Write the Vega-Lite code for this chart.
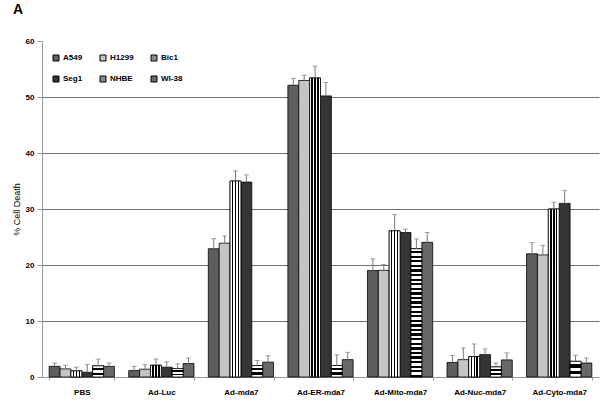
{
  "$schema": "https://vega.github.io/schema/vega-lite/v6.json",
  "autosize": {"type": "none"},
  "padding": {"left": 42, "top": 41, "right": 3, "bottom": 24},
  "width": 557,
  "height": 336,
  "background": "white",
  "title": {"text": "A", "anchor": "start", "frame": "group", "dx": -29, "offset": 20, "fontSize": 14, "font": "Liberation Sans", "fontWeight": "bold", "color": "black"},
  "config": {
    "view": {"stroke": null},
    "font": "Liberation Sans",
    "axis": {"labelFont": "Liberation Sans", "titleFont": "Liberation Sans", "labelColor": "black", "titleColor": "black"}
  },
  "data": {"values": [
    {"group": "PBS", "line": "A549", "value": 1.9, "hi": 2.5},
    {"group": "PBS", "line": "H1299", "value": 1.45, "hi": 2.1},
    {"group": "PBS", "line": "Bic1", "value": 1.1, "hi": 1.75},
    {"group": "PBS", "line": "Seg1", "value": 0.85, "hi": 2.2},
    {"group": "PBS", "line": "NHBE", "value": 2.0, "hi": 3.2},
    {"group": "PBS", "line": "WI-38", "value": 1.9, "hi": 2.5},
    {"group": "Ad-Luc", "line": "A549", "value": 1.15, "hi": 1.9},
    {"group": "Ad-Luc", "line": "H1299", "value": 1.4, "hi": 2.2},
    {"group": "Ad-Luc", "line": "Bic1", "value": 2.1, "hi": 3.2},
    {"group": "Ad-Luc", "line": "Seg1", "value": 1.75, "hi": 2.7},
    {"group": "Ad-Luc", "line": "NHBE", "value": 1.5, "hi": 2.35},
    {"group": "Ad-Luc", "line": "WI-38", "value": 2.4, "hi": 3.4},
    {"group": "Ad-mda7", "line": "A549", "value": 22.9, "hi": 24.7},
    {"group": "Ad-mda7", "line": "H1299", "value": 23.9, "hi": 25.2},
    {"group": "Ad-mda7", "line": "Bic1", "value": 35.0, "hi": 36.8},
    {"group": "Ad-mda7", "line": "Seg1", "value": 34.8, "hi": 36.1},
    {"group": "Ad-mda7", "line": "NHBE", "value": 2.05, "hi": 2.95},
    {"group": "Ad-mda7", "line": "WI-38", "value": 2.65, "hi": 3.8},
    {"group": "Ad-ER-mda7", "line": "A549", "value": 52.1, "hi": 53.3},
    {"group": "Ad-ER-mda7", "line": "H1299", "value": 52.95, "hi": 53.9},
    {"group": "Ad-ER-mda7", "line": "Bic1", "value": 53.4, "hi": 55.5},
    {"group": "Ad-ER-mda7", "line": "Seg1", "value": 50.2, "hi": 52.6},
    {"group": "Ad-ER-mda7", "line": "NHBE", "value": 2.05, "hi": 3.95},
    {"group": "Ad-ER-mda7", "line": "WI-38", "value": 3.1, "hi": 4.4},
    {"group": "Ad-Mito-mda7", "line": "A549", "value": 19.0, "hi": 21.1},
    {"group": "Ad-Mito-mda7", "line": "H1299", "value": 19.05, "hi": 20.1},
    {"group": "Ad-Mito-mda7", "line": "Bic1", "value": 26.1, "hi": 29.0},
    {"group": "Ad-Mito-mda7", "line": "Seg1", "value": 25.8, "hi": 26.4},
    {"group": "Ad-Mito-mda7", "line": "NHBE", "value": 22.9, "hi": 24.65},
    {"group": "Ad-Mito-mda7", "line": "WI-38", "value": 24.05, "hi": 25.8},
    {"group": "Ad-Nuc-mda7", "line": "A549", "value": 2.6, "hi": 3.85},
    {"group": "Ad-Nuc-mda7", "line": "H1299", "value": 3.1, "hi": 5.2},
    {"group": "Ad-Nuc-mda7", "line": "Bic1", "value": 3.65, "hi": 5.9},
    {"group": "Ad-Nuc-mda7", "line": "Seg1", "value": 4.0, "hi": 5.0},
    {"group": "Ad-Nuc-mda7", "line": "NHBE", "value": 1.8, "hi": 2.5},
    {"group": "Ad-Nuc-mda7", "line": "WI-38", "value": 3.05, "hi": 4.3},
    {"group": "Ad-Cyto-mda7", "line": "A549", "value": 22.0, "hi": 24.0},
    {"group": "Ad-Cyto-mda7", "line": "H1299", "value": 21.8, "hi": 23.5},
    {"group": "Ad-Cyto-mda7", "line": "Bic1", "value": 30.0, "hi": 31.2},
    {"group": "Ad-Cyto-mda7", "line": "Seg1", "value": 31.0, "hi": 33.3},
    {"group": "Ad-Cyto-mda7", "line": "NHBE", "value": 2.8, "hi": 3.85},
    {"group": "Ad-Cyto-mda7", "line": "WI-38", "value": 2.5, "hi": 3.4}
  ]},
  "encoding": {
    "x": {
      "field": "group", "type": "nominal",
      "sort": ["PBS", "Ad-Luc", "Ad-mda7", "Ad-ER-mda7", "Ad-Mito-mda7", "Ad-Nuc-mda7", "Ad-Cyto-mda7"],
      "scale": {"paddingInner": 0.18, "paddingOuter": 0.09},
      "axis": {"title": null, "labelAngle": 0, "labelFontSize": 8, "labelFontWeight": "bold", "labelPadding": 8, "labelColor": "black", "domainColor": "#999999", "tickColor": "#999999", "tickSize": 3, "tickBand": "extent"}
    },
    "xOffset": {"field": "line", "type": "nominal", "scale": {"domain": ["A549", "H1299", "Bic1", "Seg1", "NHBE", "WI-38"], "paddingInner": 0, "paddingOuter": 0}},
    "y": {
      "field": "value", "type": "quantitative",
      "scale": {"domain": [0, 60], "nice": false},
      "axis": {
        "title": "% Cell Death", "titleFontSize": 9, "titleFontWeight": "normal", "titlePadding": 4, "titleColor": "#000000",
        "values": [0, 10, 20, 30, 40, 50, 60],
        "labelFontSize": 8, "labelFontWeight": "bold", "labelPadding": 3, "labelColor": "black",
        "tickSize": 5, "tickColor": "#999999", "domainColor": "#999999",
        "gridColor": {"condition": {"test": "datum.value === 60 || datum.value === 0", "value": null}, "value": "#6e6e6e"},
        "gridWidth": 1
      }
    }
  },
  "layer": [
    {
      "mark": {"type": "bar", "stroke": "black", "strokeWidth": 0.8},
      "encoding": {
        "fill": {
          "field": "line", "type": "nominal",
          "scale": {"domain": ["A549", "H1299", "Bic1", "Seg1", "NHBE", "WI-38"], "range": ["#5e5e5e", "#c4c4c4", "#8c8c8c", "#353535", "#8c8c8c", "#686868"]},
          "legend": {"title": null, "orient": "none", "direction": "horizontal", "legendX": 10, "legendY": 13, "columns": 3, "symbolType": "square", "symbolSize": 36, "symbolStrokeColor": "black", "symbolStrokeWidth": 1, "labelFontSize": 8, "labelFontWeight": "bold", "labelFont": "Liberation Sans", "labelColor": "black", "columnPadding": 15, "rowPadding": 11, "labelOffset": 3, "padding": 0}
        }
      }
    },
    {
      "transform": [{"filter": "datum.line === 'Bic1'"}],
      "mark": {"type": "bar", "stroke": "black", "strokeWidth": 0.8,
        "fill": {"gradient": "linear", "x1": 0, "y1": 0, "x2": 1, "y2": 0, "stops": [
          {"offset": 0, "color": "white"}, {"offset": 0.17, "color": "white"},
          {"offset": 0.17, "color": "black"}, {"offset": 0.3, "color": "black"},
          {"offset": 0.3, "color": "white"}, {"offset": 0.44, "color": "white"},
          {"offset": 0.44, "color": "black"}, {"offset": 0.57, "color": "black"},
          {"offset": 0.57, "color": "white"}, {"offset": 0.7, "color": "white"},
          {"offset": 0.7, "color": "black"}, {"offset": 0.83, "color": "black"},
          {"offset": 0.83, "color": "white"}, {"offset": 1, "color": "white"}
        ]}
      }
    },
    {
      "transform": [{"filter": "datum.line === 'NHBE' && datum.value < 10"}],
      "mark": {"type": "bar", "stroke": "black", "strokeWidth": 0.8,
        "fill": {"gradient": "linear", "x1": 0, "y1": 0, "x2": 0, "y2": 1, "stops": [
          {"offset": 0, "color": "white"}, {"offset": 0.2, "color": "white"},
          {"offset": 0.2, "color": "black"}, {"offset": 0.4, "color": "black"},
          {"offset": 0.4, "color": "white"}, {"offset": 0.6, "color": "white"},
          {"offset": 0.6, "color": "black"}, {"offset": 0.8, "color": "black"},
          {"offset": 0.8, "color": "white"}, {"offset": 1, "color": "white"}
        ]}
      }
    },
    {
      "transform": [{"filter": "datum.line === 'NHBE' && datum.value >= 10"}],
      "mark": {"type": "bar", "stroke": "black", "strokeWidth": 0.8,
        "fill": {"gradient": "linear", "x1": 0, "y1": 0, "x2": 0, "y2": 1, "stops": [
          {"offset": 0, "color": "white"}, {"offset": 0.0179, "color": "white"}, {"offset": 0.0179, "color": "black"}, {"offset": 0.0357, "color": "black"},
          {"offset": 0.0357, "color": "white"}, {"offset": 0.0536, "color": "white"}, {"offset": 0.0536, "color": "black"}, {"offset": 0.0714, "color": "black"},
          {"offset": 0.0714, "color": "white"}, {"offset": 0.0893, "color": "white"}, {"offset": 0.0893, "color": "black"}, {"offset": 0.1071, "color": "black"},
          {"offset": 0.1071, "color": "white"}, {"offset": 0.125, "color": "white"}, {"offset": 0.125, "color": "black"}, {"offset": 0.1429, "color": "black"},
          {"offset": 0.1429, "color": "white"}, {"offset": 0.1607, "color": "white"}, {"offset": 0.1607, "color": "black"}, {"offset": 0.1786, "color": "black"},
          {"offset": 0.1786, "color": "white"}, {"offset": 0.1964, "color": "white"}, {"offset": 0.1964, "color": "black"}, {"offset": 0.2143, "color": "black"},
          {"offset": 0.2143, "color": "white"}, {"offset": 0.2321, "color": "white"}, {"offset": 0.2321, "color": "black"}, {"offset": 0.25, "color": "black"},
          {"offset": 0.25, "color": "white"}, {"offset": 0.2679, "color": "white"}, {"offset": 0.2679, "color": "black"}, {"offset": 0.2857, "color": "black"},
          {"offset": 0.2857, "color": "white"}, {"offset": 0.3036, "color": "white"}, {"offset": 0.3036, "color": "black"}, {"offset": 0.3214, "color": "black"},
          {"offset": 0.3214, "color": "white"}, {"offset": 0.3393, "color": "white"}, {"offset": 0.3393, "color": "black"}, {"offset": 0.3571, "color": "black"},
          {"offset": 0.3571, "color": "white"}, {"offset": 0.375, "color": "white"}, {"offset": 0.375, "color": "black"}, {"offset": 0.3929, "color": "black"},
          {"offset": 0.3929, "color": "white"}, {"offset": 0.4107, "color": "white"}, {"offset": 0.4107, "color": "black"}, {"offset": 0.4286, "color": "black"},
          {"offset": 0.4286, "color": "white"}, {"offset": 0.4464, "color": "white"}, {"offset": 0.4464, "color": "black"}, {"offset": 0.4643, "color": "black"},
          {"offset": 0.4643, "color": "white"}, {"offset": 0.4821, "color": "white"}, {"offset": 0.4821, "color": "black"}, {"offset": 0.5, "color": "black"},
          {"offset": 0.5, "color": "white"}, {"offset": 0.5179, "color": "white"}, {"offset": 0.5179, "color": "black"}, {"offset": 0.5357, "color": "black"},
          {"offset": 0.5357, "color": "white"}, {"offset": 0.5536, "color": "white"}, {"offset": 0.5536, "color": "black"}, {"offset": 0.5714, "color": "black"},
          {"offset": 0.5714, "color": "white"}, {"offset": 0.5893, "color": "white"}, {"offset": 0.5893, "color": "black"}, {"offset": 0.6071, "color": "black"},
          {"offset": 0.6071, "color": "white"}, {"offset": 0.625, "color": "white"}, {"offset": 0.625, "color": "black"}, {"offset": 0.6429, "color": "black"},
          {"offset": 0.6429, "color": "white"}, {"offset": 0.6607, "color": "white"}, {"offset": 0.6607, "color": "black"}, {"offset": 0.6786, "color": "black"},
          {"offset": 0.6786, "color": "white"}, {"offset": 0.6964, "color": "white"}, {"offset": 0.6964, "color": "black"}, {"offset": 0.7143, "color": "black"},
          {"offset": 0.7143, "color": "white"}, {"offset": 0.7321, "color": "white"}, {"offset": 0.7321, "color": "black"}, {"offset": 0.75, "color": "black"},
          {"offset": 0.75, "color": "white"}, {"offset": 0.7679, "color": "white"}, {"offset": 0.7679, "color": "black"}, {"offset": 0.7857, "color": "black"},
          {"offset": 0.7857, "color": "white"}, {"offset": 0.8036, "color": "white"}, {"offset": 0.8036, "color": "black"}, {"offset": 0.8214, "color": "black"},
          {"offset": 0.8214, "color": "white"}, {"offset": 0.8393, "color": "white"}, {"offset": 0.8393, "color": "black"}, {"offset": 0.8571, "color": "black"},
          {"offset": 0.8571, "color": "white"}, {"offset": 0.875, "color": "white"}, {"offset": 0.875, "color": "black"}, {"offset": 0.8929, "color": "black"},
          {"offset": 0.8929, "color": "white"}, {"offset": 0.9107, "color": "white"}, {"offset": 0.9107, "color": "black"}, {"offset": 0.9286, "color": "black"},
          {"offset": 0.9286, "color": "white"}, {"offset": 0.9464, "color": "white"}, {"offset": 0.9464, "color": "black"}, {"offset": 0.9643, "color": "black"},
          {"offset": 0.9643, "color": "white"}, {"offset": 0.9821, "color": "white"}, {"offset": 0.9821, "color": "black"}, {"offset": 1, "color": "black"}
        ]}
      }
    },
    {
      "mark": {"type": "rule", "color": "#7a7a7a", "strokeWidth": 1},
      "encoding": {"y2": {"field": "hi"}}
    },
    {
      "mark": {"type": "tick", "color": "#7a7a7a", "size": 5, "thickness": 1, "orient": "horizontal"},
      "encoding": {"y": {"field": "hi", "type": "quantitative"}}
    }
  ]
}
